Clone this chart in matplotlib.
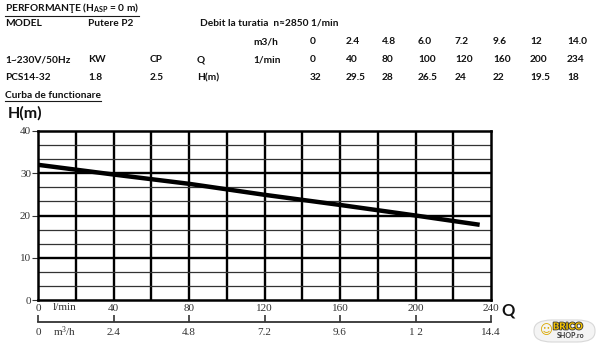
import matplotlib
matplotlib.use("Agg")
import matplotlib.pyplot as plt
from matplotlib.lines import Line2D
from matplotlib.patches import FancyBboxPatch
from matplotlib.ticker import FixedLocator, FixedFormatter
import matplotlib.patheffects as pe

# ---- data ----
table_m3h = ["0", "2.4", "4.8", "6.0", "7.2", "9.6", "12", "14.0"]
table_lmin = ["0", "40", "80", "100", "120", "160", "200", "234"]
table_h = ["32", "29.5", "28", "26.5", "24", "22", "19.5", "18"]

curve_q = [0, 40, 80, 120, 160, 200, 234]           # l/min
curve_h = [32.0, 29.7, 27.5, 24.9, 22.5, 20.0, 17.8]  # m

lmin_ticks = [0, 40, 80, 120, 160, 200, 240]
lmin_labels = ["0", "40", "80", "120", "160", "200", "240"]
m3h_labels = ["0", "2.4", "4.8", "7.2", "9.6", "1 2", "14.4"]
h_ticks = [0, 10, 20, 30, 40]

plt.rcParams["mathtext.fontset"] = "custom"
plt.rcParams["mathtext.rm"] = "Lato:bold"
plt.rcParams["mathtext.it"] = "Lato:bold"
plt.rcParams["mathtext.bf"] = "Lato:bold"
plt.rcParams["mathtext.default"] = "regular"

W, H = 600, 345
fig = plt.figure(figsize=(6.0, 3.45), dpi=100)
fig.patch.set_facecolor("white")

def fx(px):
    return px / W

def fy(py):
    return 1 - py / H

TXT = dict(family=["Lato", "DejaVu Sans"], fontweight="bold", fontsize=7.3, color="#111111",
           va="center", ha="left")
SERIF = "Liberation Serif"

# header table
t_title = fig.text(fx(5), fy(8), "PERFORMANŢE (H$_{ASP}$ = 0 m)", **TXT)
fig.text(fx(5), fy(23), "MODEL", **TXT)
fig.text(fx(88), fy(23), "Putere P2", **TXT)
fig.text(fx(200), fy(23), "Debit la turatia  n≈2850 1/min", **TXT)
fig.text(fx(253), fy(42), "m3/h", **TXT)
fig.text(fx(5), fy(60), "1~230V/50Hz", **TXT)
fig.text(fx(88), fy(60), "KW", **TXT)
fig.text(fx(150), fy(60), "CP", **TXT)
fig.text(fx(197), fy(60), "Q", **TXT)
fig.text(fx(253), fy(60), "1/min", **TXT)
fig.text(fx(5), fy(78), "PCS14-32", **TXT)
fig.text(fx(88), fy(78), "1.8", **TXT)
fig.text(fx(150), fy(78), "2.5", **TXT)
fig.text(fx(197), fy(78), "H(m)", **TXT)
t_curba = fig.text(fx(5), fy(95), "Curba de functionare", **TXT)

col_x = [310, 346, 382, 418, 455, 493, 530, 567]
for i, x in enumerate(col_x):
    fig.text(fx(x), fy(42), table_m3h[i], **TXT)
    fig.text(fx(x), fy(60), table_lmin[i], **TXT)
    fig.text(fx(x), fy(78), table_h[i], **TXT)

fig.text(fx(8), fy(113), "H(m)", family="Lato", fontweight="bold", fontsize=11.5, color="#111111",
         va="center", ha="left")
fig.text(fx(501), fy(310), "Q", family="Lato", fontweight="bold", fontsize=12, color="#111111",
         va="center", ha="left")

# ---- main chart ----
left, right, top, bottom = 38, 491, 131, 300
ax = fig.add_axes([fx(left), fy(bottom), fx(right - left), (bottom - top) / H])
ax.set_xlim(0, 240)
ax.set_ylim(0, 40)

for xv in range(20, 240, 20):
    ax.axvline(xv, color="black", lw=1.7, zorder=1)
for k in range(1, 12):
    yv = k * 40 / 12
    major = (k % 3 == 0)
    ax.axhline(yv, color="black" if major else "#333333", lw=1.7 if major else 0.9, zorder=1)

for s in ax.spines.values():
    s.set_linewidth(1.8)
    s.set_color("black")

ax.plot(curve_q, curve_h, color="black", lw=3.2, solid_capstyle="butt", zorder=3)

ax.yaxis.set_major_locator(FixedLocator(h_ticks))
ax.tick_params(axis="y", length=4, width=0.8, pad=1, labelsize=8, colors="#333333")
for lab in ax.get_yticklabels():
    lab.set_family(SERIF)

ax.xaxis.set_major_locator(FixedLocator(lmin_ticks))
ax.xaxis.set_major_formatter(FixedFormatter(lmin_labels))
ax.tick_params(axis="x", length=0, pad=3, labelsize=8, colors="#333333")
for lab in ax.get_xticklabels():
    lab.set_family(SERIF)

sec = ax.secondary_xaxis(-22 / (bottom - top))
sec.set_xticks(lmin_ticks)
sec.set_xticklabels(m3h_labels)
sec.tick_params(axis="x", direction="in", length=5, width=1.2, pad=4, labelsize=8, colors="#333333")
sec.spines["bottom"].set_linewidth(1.3)
sec.spines["bottom"].set_color("#333333")
for lab in sec.get_xticklabels():
    lab.set_family(SERIF)

fig.text(fx(53), fy(308), "l/min", family=SERIF, fontsize=8, color="#333333", va="center", ha="left")
fig.text(fx(53), fy(332), "m$^{3}$/h", family=SERIF, fontsize=8, color="#333333",
         va="center", ha="left", math_fontfamily="stix")

# logo
logo = FancyBboxPatch((fx(534), fy(342)), fx(61), (342 - 320) / H,
                      boxstyle="round,pad=0.0,rounding_size=0.03", transform=fig.transFigure,
                      facecolor="#f4f4f4", edgecolor="#d8d8d8", lw=0.8)
fig.add_artist(logo)
fig.text(fx(568), fy(327), "BRICO", family="Lato", fontweight="black", fontsize=7, color="#f5c400",
         va="center", ha="center", path_effects=[pe.withStroke(linewidth=1.2, foreground="#333333")])
fig.text(fx(571), fy(336), "SHOP.ro", family="Lato", fontweight="bold", fontsize=5, color="#333333",
         va="center", ha="center")
fig.text(fx(546), fy(331), "☺", family="DejaVu Sans", fontsize=9, color="#d9a800",
         va="center", ha="center")

# underlines
fig.canvas.draw()
r = fig.canvas.get_renderer()
for t in (t_title, t_curba):
    bb = t.get_window_extent(renderer=r)
    yline = bb.y0 - 1
    fig.add_artist(Line2D([bb.x0 / W, bb.x1 / W], [yline / H, yline / H],
                          transform=fig.transFigure, color="#1a1a1a", lw=0.8))

fig.savefig("out.png", dpi=100, facecolor="white")
